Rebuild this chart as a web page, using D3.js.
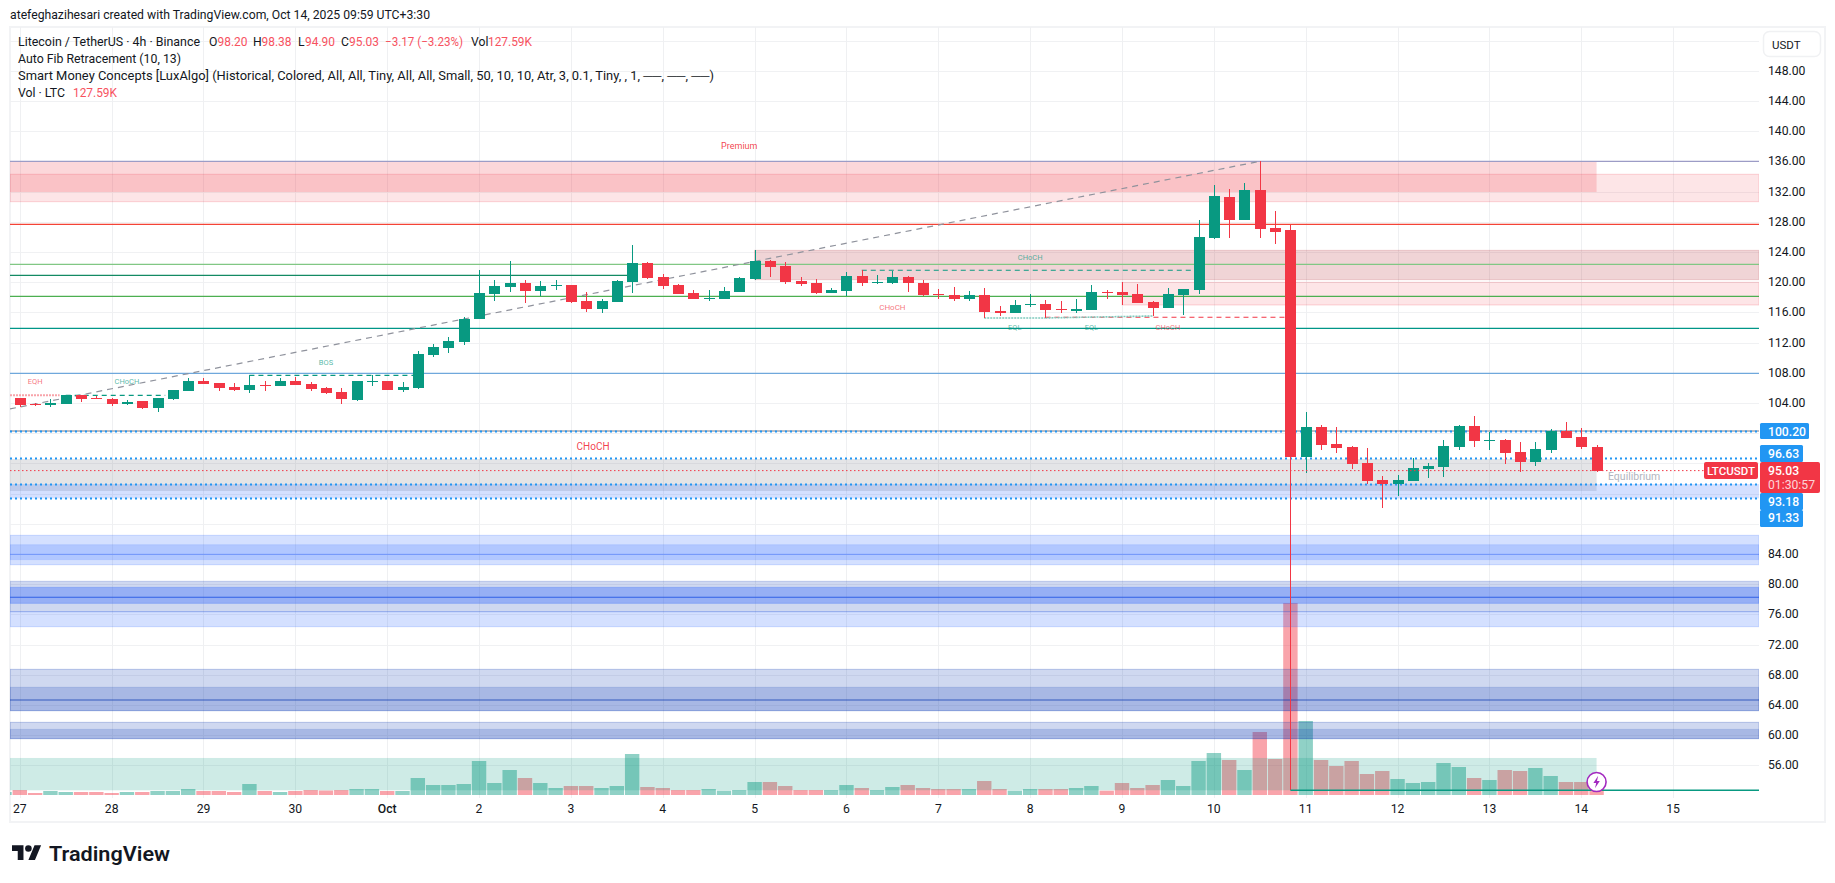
<!DOCTYPE html>
<html><head><meta charset="utf-8">
<script src="https://cdn.jsdelivr.net/npm/d3@7/dist/d3.min.js"></script>
<style>html,body{margin:0;padding:0;background:#fff;overflow:hidden}svg{display:block}text{font-family:Roboto,"Noto Sans",sans-serif}</style>
</head><body><svg id="c" width="1835" height="883"></svg>
<script>
// ---------- data ----------
const opens=[104.65,103.85,103.72,103.85,105.05,104.65,104.52,103.85,104.25,103.32,104.52,105.58,106.9,106.63,106.1,105.71,106.37,106.24,106.9,106.5,105.97,105.44,104.38,106.77,106.9,105.71,105.97,110.34,111.27,112.07,115.11,118.42,119.35,119.88,118.82,119.48,119.61,117.5,116.44,117.36,120.01,122.53,120.68,119.62,118.56,117.76,117.76,118.69,120.41,122.8,122.13,120.15,119.88,118.56,118.82,120.81,119.88,119.88,120.68,119.88,118.42,118.29,117.76,118.29,116.17,115.91,116.97,117.1,116.44,116.17,116.3,118.73,118.69,118.42,117.37,116.57,118.3,118.96,125.84,131.27,128.23,132.2,127.17,126.9,96.84,100.8,98.55,98.15,96.04,93.78,93.25,93.65,95.24,95.5,98.15,100.94,99.0,99.08,97.49,96.17,97.76,100.27,99.48,98.20];
const highs=[104.65,104.03,104.47,105.05,105.05,104.96,104.65,104.38,104.25,104.65,105.71,107.3,107.3,106.63,106.63,107.65,106.9,107.3,107.43,106.77,106.1,105.97,106.9,107.65,106.9,106.77,110.87,111.8,112.73,115.38,121.6,120.28,122.79,120.28,120.14,120.28,119.61,118.69,117.76,120.28,124.9,122.66,121.07,119.75,118.95,118.95,119.35,120.68,124.25,122.93,122.66,120.68,120.41,119.22,121.34,121.6,120.94,121.47,120.81,120.28,119.09,119.35,118.82,119.22,116.83,117.63,118.42,117.63,117.5,117.76,119.62,118.95,120.01,119.75,117.5,119.22,119.09,128.23,132.86,132.33,133.13,136.0,129.42,127.57,102.79,101.08,100.8,98.29,98.02,94.31,94.45,96.7,96.04,99.08,101.07,102.26,100.14,99.22,98.82,98.82,100.54,101.47,100.67,98.38];
const lows=[103.41,103.59,103.5,103.85,104.16,104.52,103.59,103.72,103.19,102.79,104.38,105.58,106.5,105.58,105.58,105.31,105.58,106.24,106.37,105.58,105.18,103.85,104.25,106.24,105.71,105.44,105.84,110.08,110.6,111.67,115.11,117.5,118.69,117.23,118.16,118.95,117.23,116.04,115.91,117.36,118.56,120.41,119.09,118.42,117.76,117.5,117.76,118.69,120.28,120.68,119.75,119.48,118.42,118.56,118.16,119.48,119.75,119.75,118.69,118.16,117.76,117.5,117.5,115.25,115.51,115.91,116.7,115.25,115.91,115.91,116.3,117.76,116.97,117.23,115.51,116.57,115.64,118.42,125.71,125.84,128.23,125.84,125.05,52.69,94.76,97.76,97.36,95.24,93.25,90.07,91.66,93.65,94.05,94.18,97.76,98.15,97.76,95.9,94.84,95.64,97.36,99.35,97.89,94.90];
const closes=[103.72,103.72,103.99,105.05,104.52,104.52,103.85,104.12,103.32,104.65,105.71,106.9,106.5,105.97,105.71,106.37,106.24,106.9,106.37,105.84,105.31,104.52,106.9,106.9,105.71,106.1,110.48,111.4,112.2,115.11,118.56,119.48,119.88,118.82,119.48,119.61,117.36,116.44,117.5,120.14,122.53,120.54,119.48,118.42,117.76,117.9,118.82,120.54,122.8,122.0,120.01,119.75,118.56,118.95,120.81,119.88,120.01,120.68,119.88,118.29,118.29,117.76,118.29,116.04,115.91,116.97,117.1,116.3,116.3,116.44,118.69,118.6,118.29,117.23,116.57,118.42,119.09,125.98,131.41,128.23,132.2,127.04,126.64,96.84,100.8,98.43,98.02,95.9,93.65,93.25,93.78,95.37,95.64,98.29,100.94,98.95,99.13,97.36,96.17,97.89,100.27,99.35,98.15,95.03];
// volume in thousands, first bar sits one step before the first candle
const volumes=[30,50,20,40,30,30,30,20,30,30,40,40,60,40,40,30,110,40,30,40,50,45,50,60,60,40,40,170,100,100,110,340,120,250,170,120,70,90,90,70,90,410,80,70,50,50,60,43,50,130,130,90,50,50,50,100,70,50,80,100,70,60,60,60,140,60,43,60,60,60,70,90,43,120,70,100,150,90,340,420,350,250,630,360,1920,740,350,290,340,210,240,160,120,130,320,280,170,150,250,240,270,190,130,130,127.59];
const volumeColorIndexOffset=-1;
const priceTicks=[148,144,140,136,132,128,124,120,116,112,108,104,100,96,92,88,84,80,76,72,68,64,60,56];
const ticksCoveredByTags=[100,96,92,88];
const hiddenGridTicks=[152];
const dayLabels=["27","28","29","30","Oct","2","3","4","5","6","7","8","9","10","11","12","13","14","15"];
const barsPerDay=6;
// fibonacci / level lines: price, last bar (null = right edge)
const levelPrices=[136,127.65,122.35,120.9,118.11,113.88,107.92,100.28];
const levelEnds=[null,null,null,40,null,null,null,null];
const levelColors=["#9c9cc6","#f44336","#81c784","#138a63","#4caf50","#009688","#6fa8dc","#787b86"];
const dottedPrices=[100.20,96.63,93.18,91.33];
const lastPrice=95.03;
// price zones: top, bottom, first bar (null = left edge), last bar (null = right edge)
const zoneTops=[136,134.28,124.21,119.97,96.57,93.25,86.46,85.22,80.37,79.57,76.35,68.71,66.33,61.69,60.76,56.97];
const zoneBottoms=[131.93,130.65,120.32,116.97,92.33,91.36,82.57,83.24,76.35,77.45,74.36,63.24,63.24,59.53,59.53,52.69];
const zoneStarts=[null,null,48,72,null,null,null,null,null,null,null,null,null,null,null,null];
const zoneEnds=[103,null,null,null,103,null,null,null,null,null,null,null,null,null,null,103];
const zoneFills=["rgba(242,54,69,.2)","rgba(242,54,69,.13)","rgba(178,40,51,.2)","rgba(242,54,69,.13)","rgba(120,123,134,.2)","rgba(41,98,255,.2)","rgba(41,98,255,.2)","rgba(41,98,255,.2)","rgba(15,60,180,.2)","rgba(41,98,255,.34)","rgba(41,98,255,.2)","rgba(15,60,180,.2)","rgba(15,60,180,.2)","rgba(15,60,180,.2)","rgba(15,60,180,.2)","rgba(8,153,129,.2)"];
const zoneStrokes=["none","rgba(242,54,69,.2)","rgba(178,40,51,.18)","rgba(242,54,69,.2)","none","none","rgba(41,98,255,.2)","rgba(41,98,255,.1)","rgba(15,60,180,.2)","rgba(41,98,255,.25)","rgba(41,98,255,.2)","rgba(15,60,180,.25)","rgba(15,60,180,.15)","rgba(15,60,180,.25)","rgba(15,60,180,.12)","none"];
const midPrices=[83.94,78.25,64.65];
const midColors=["rgba(41,98,255,.45)","#2f5fe6","rgba(15,60,180,.38)"];
const midWidths=[1,1.1,1.8];
// market-structure segments: bar from, bar to, price
const structFrom=[-0.64,3,15,55,67];
const structTo=[2.6,9.5,25.9,77,83];
const structPrice=[105.0,105.0,107.65,121.56,115.34];
const structColor=["#f8a4aa","#089981","#089981","#089981","#f23645"];
const structDash=["2,1","5,4","5,4","5,4","5,4"];
const eqlBars=[63,67,67,74];
const eqlPrices=[115.25,115.25,115.25,115.51];
const fibDiagBars=[-0.64,81];
const fibDiagPrices=[103.2,136];
const swingLineBar=83, swingLinePrice=52.69;
const labelTexts=["Premium","EQH","CHoCH","BOS","CHoCH","CHoCH","EQL","EQL","CHoCH","CHoCH"];
const labelBars=[47,1,7,20,66,57,65,70,75,37.45];
const labelPrices=[138.0,106.8,106.8,109.4,123.2,116.7,113.94,113.94,113.94,98.29];
const labelColors=["#f23645","#f23645","#089981","#089981","#089981","#f23645","#089981","#089981","#f23645","#f23645"];
const labelSizes=[9,7.5,7.5,7.5,7.5,8,7.5,7.5,7.5,10];

// ---------- layout ----------
const W=1835,H=883,L=10,R=1759,T=27,VB=795;
const x=d3.scaleLinear().domain([-0.64,113.61]).range([L,R]);
const y=d3.scaleLinear().domain([56,136]).range([765.3,161.3]);
const v=d3.scaleLinear().domain([0,1000]).range([VB,VB-100]);
const green="#089981",red="#f23645",ink="#131722";
const svg=d3.select("#c");
svg.append("defs").append("clipPath").attr("id","pane").append("rect").attr("x",L).attr("y",T).attr("width",R-L).attr("height",800-T);
const xi=b=>b==null?R:x(b);
const xs=b=>b==null?L:x(b);

// frame
svg.append("rect").attr("x",10).attr("y",27).attr("width",1815).attr("height",795).attr("fill","none").attr("stroke","#f2f3f5").attr("stroke-width",2);

const pane=svg.append("g").attr("clip-path","url(#pane)");
// grid
pane.append("g").selectAll("line").data(priceTicks.concat(hiddenGridTicks)).join("line")
 .attr("x1",L).attr("x2",R).attr("y1",d=>Math.round(y(d))+.5).attr("y2",d=>Math.round(y(d))+.5).attr("stroke","#f0f1f3");
pane.append("g").selectAll("line").data(dayLabels).join("line")
 .attr("x1",(d,i)=>Math.round(x(i*barsPerDay))+.5).attr("x2",(d,i)=>Math.round(x(i*barsPerDay))+.5).attr("y1",T).attr("y2",798).attr("stroke","#eff0f2");

// volume
const vg=pane.append("g");
vg.selectAll("rect").data(volumes).join("rect")
 .attr("x",(d,i)=>x(i+volumeColorIndexOffset)-7.2).attr("width",14.4)
 .attr("y",d=>v(d)).attr("height",d=>VB-v(d))
 .attr("fill",(d,i)=>{const k=i+volumeColorIndexOffset; return (k<0||closes[k]>=opens[k])?"rgba(8,153,129,.45)":"rgba(242,54,69,.45)";});

// zones
pane.append("g").selectAll("rect").data(zoneTops).join("rect")
 .attr("x",(d,i)=>xs(zoneStarts[i])).attr("width",(d,i)=>{const e=zoneEnds[i]==null?R:x(zoneEnds[i]);return e-xs(zoneStarts[i]);})
 .attr("y",d=>y(d)).attr("height",(d,i)=>y(zoneBottoms[i])-y(d))
 .attr("fill",(d,i)=>zoneFills[i]).attr("stroke",(d,i)=>zoneStrokes[i]);
// mid lines
pane.append("g").selectAll("line").data(midPrices).join("line")
 .attr("x1",L).attr("x2",R).attr("y1",d=>y(d)).attr("y2",d=>y(d))
 .attr("stroke",(d,i)=>midColors[i]).attr("stroke-width",(d,i)=>midWidths[i]);
// levels
pane.append("g").selectAll("line").data(levelPrices).join("line")
 .attr("x1",L).attr("x2",(d,i)=>xi(levelEnds[i])).attr("y1",d=>y(d)).attr("y2",d=>y(d))
 .attr("stroke",(d,i)=>levelColors[i]).attr("stroke-width",1.2);
// diagonal fib trend line
pane.append("path").attr("d",d3.line().x(d=>x(d)).y((d,i)=>y(fibDiagPrices[i]))(fibDiagBars))
 .attr("fill","none").attr("stroke","#8f929c").attr("stroke-width",1.2).attr("stroke-dasharray","6,5");
// market structure
pane.append("g").selectAll("line").data(structFrom).join("line")
 .attr("x1",d=>x(d)).attr("x2",(d,i)=>x(structTo[i])).attr("y1",(d,i)=>y(structPrice[i])).attr("y2",(d,i)=>y(structPrice[i]))
 .attr("stroke",(d,i)=>structColor[i]).attr("stroke-width",(d,i)=>i==0?2:1.1).attr("stroke-dasharray",(d,i)=>structDash[i]);
pane.append("g").selectAll("line").data([0,2]).join("line")
 .attr("x1",d=>x(eqlBars[d])).attr("x2",d=>x(eqlBars[d+1])).attr("y1",d=>y(eqlPrices[d])).attr("y2",d=>y(eqlPrices[d+1]))
 .attr("stroke","#7fcabd").attr("stroke-width",1.6).attr("stroke-dasharray","2,1");
// dotted price lines
pane.append("g").selectAll("line").data(dottedPrices).join("line")
 .attr("x1",L).attr("x2",R).attr("y1",d=>y(d)).attr("y2",d=>y(d))
 .attr("stroke","#2196f3").attr("stroke-width",2).attr("stroke-dasharray","2,3");

// candles
const cg=pane.append("g").attr("shape-rendering","crispEdges");
const colorOf=i=>closes[i]>=opens[i]?green:red;
cg.selectAll("line").data(opens).join("line")
 .attr("x1",(d,i)=>Math.round(x(i))+.5).attr("x2",(d,i)=>Math.round(x(i))+.5)
 .attr("y1",(d,i)=>y(highs[i])).attr("y2",(d,i)=>y(lows[i])).attr("stroke",(d,i)=>colorOf(i));
cg.selectAll("rect").data(opens).join("rect")
 .attr("x",(d,i)=>Math.round(x(i))-5).attr("width",11)
 .attr("y",(d,i)=>y(Math.max(d,closes[i]))).attr("height",(d,i)=>Math.max(1,Math.abs(y(d)-y(closes[i]))))
 .attr("fill",(d,i)=>colorOf(i));
// last price dotted
pane.append("line").attr("x1",L).attr("x2",1704).attr("y1",y(lastPrice)).attr("y2",y(lastPrice))
 .attr("stroke",red).attr("stroke-width",1).attr("stroke-dasharray","1.5,2.5");
// swing low line
pane.append("line").attr("x1",x(swingLineBar)).attr("x2",R).attr("y1",y(swingLinePrice)).attr("y2",y(swingLinePrice)).attr("stroke",green).attr("stroke-width",1.5);

// tiny labels
pane.append("g").selectAll("text").data(labelTexts).join("text").text(d=>d)
 .attr("x",(d,i)=>x(labelBars[i])).attr("y",(d,i)=>y(labelPrices[i])).attr("text-anchor","middle").attr("dominant-baseline","central")
 .attr("fill",(d,i)=>labelColors[i]).attr("fill-opacity",(d,i)=>i==0||i==9?.95:.7).attr("font-size",(d,i)=>labelSizes[i]);
pane.append("text").text("Equilibrium").attr("x",1608).attr("y",476).attr("dominant-baseline","central").attr("fill","#b2b5be").attr("font-size",10.5);

// lightning
const bolt=svg.append("g").attr("transform",`translate(${x(103)},782)`);
bolt.append("circle").attr("r",9.5).attr("fill","#fff").attr("stroke","#a32ac0").attr("stroke-width",1.6);
bolt.append("path").attr("d","M1.6,-6.2 L-3.2,1 H-.4 L-1.6,6.2 L3.2,-1 H.4 Z").attr("fill","#a32ac0");

// y axis
svg.append("g").selectAll("text").data(priceTicks.filter(d=>!ticksCoveredByTags.includes(d))).join("text").text(d=>d.toFixed(2))
 .attr("x",1768).attr("y",d=>y(d)).attr("dominant-baseline","central").attr("font-size",12.2).attr("fill",ink);
// time axis
svg.append("g").selectAll("text").data(dayLabels).join("text").text(d=>d)
 .attr("x",(d,i)=>x(i*barsPerDay)).attr("y",809).attr("text-anchor","middle").attr("dominant-baseline","central")
 .attr("font-size",12.2).attr("fill",ink).attr("font-weight",d=>d=="Oct"?500:400);
// USDT
svg.append("rect").attr("x",1763.5).attr("y",31.5).attr("width",57).attr("height",25).attr("rx",6).attr("fill","#fff").attr("stroke","#f0f1f3").attr("stroke-width",1.5);
svg.append("text").text("USDT").attr("x",1772).attr("y",44.5).attr("dominant-baseline","central").attr("font-size",11.5).attr("fill",ink);

// price tags
const tags=[["100.20",1760,423,49,16,431.5],["96.63",1760,445,43,17,453.5],["93.18",1760,493,43,17,501.7],["91.33",1760,510,43,17,518.3]];
svg.append("g").selectAll("rect").data(tags).join("rect").attr("x",d=>d[1]).attr("y",d=>d[2]).attr("width",d=>d[3]).attr("height",d=>d[4]).attr("rx",1.5).attr("fill","#2196f3");
svg.append("g").selectAll("text").data(tags).join("text").text(d=>d[0]).attr("x",1768).attr("y",d=>d[5]).attr("dominant-baseline","central").attr("fill","#fff").attr("font-size",12.2).attr("font-weight",500);
svg.append("rect").attr("x",1704).attr("y",462).attr("width",54).attr("height",17).attr("rx",2).attr("fill",red);
svg.append("text").text("LTCUSDT").attr("x",1731).attr("y",470.7).attr("text-anchor","middle").attr("dominant-baseline","central").attr("fill","#fff").attr("font-size",11.5).attr("font-weight",500);
svg.append("rect").attr("x",1760).attr("y",462).attr("width",60).attr("height",31).attr("rx",2).attr("fill",red);
svg.append("text").text("95.03").attr("x",1768).attr("y",470.7).attr("dominant-baseline","central").attr("fill","#fff").attr("font-size",12.2).attr("font-weight",500);
svg.append("text").text("01:30:57").attr("x",1768).attr("y",484.7).attr("dominant-baseline","central").attr("fill","#fff").attr("fill-opacity",.8).attr("font-size",12.2);

// header + legend
const tok=(t,xp,yp,c,w)=>{const e=svg.append("text").text(t).attr("x",xp).attr("y",yp).attr("dominant-baseline","central").attr("font-size",12.2).attr("fill",c||ink);
 if(w)e.attr("textLength",w).attr("lengthAdjust","spacingAndGlyphs");};
const lred="#f7525f";
tok("atefeghazihesari created with TradingView.com, Oct 14, 2025 09:59 UTC+3:30",10,15,ink,420);
tok("Litecoin / TetherUS · 4h · Binance",18,42,ink,182);
tok("O",209,42);tok("98.20",217.5,42,lred,30);tok("H",253,42);tok("98.38",261.5,42,lred,30);tok("L",298,42);tok("94.90",305,42,lred,30);tok("C",341,42);tok("95.03",349,42,lred,30);
tok("−3.17 (−3.23%)",385,42,lred,78);tok("Vol",471,42);tok("127.59K",488,42,lred,44);
tok("Auto Fib Retracement (10, 13)",18,59,ink,163);
tok("Smart Money Concepts [LuxAlgo] (Historical, Colored, All, All, Tiny, All, All, Small, 50, 10, 10, Atr, 3, 0.1, Tiny, , 1, ──, ──, ──)",18,76,ink,696);
tok("Vol · LTC",18,93,ink,47);tok("127.59K",73,93,lred,44);

// logo
const logo=svg.append("g").attr("transform","translate(12,842) scale(.82)");
logo.append("path").attr("d","M14 22H7V11H0V4h14v18zM28 22h-8l7.5-18h8L28 22z").attr("fill","#131722");
logo.append("circle").attr("cx",20).attr("cy",8).attr("r",4).attr("fill","#131722");
svg.append("text").text("TradingView").attr("x",49).attr("y",853.5).attr("dominant-baseline","central").attr("font-family","Inter").attr("font-weight",600).attr("font-size",21).attr("fill","#131722").attr("textLength",121).attr("lengthAdjust","spacingAndGlyphs");
</script></body></html>
